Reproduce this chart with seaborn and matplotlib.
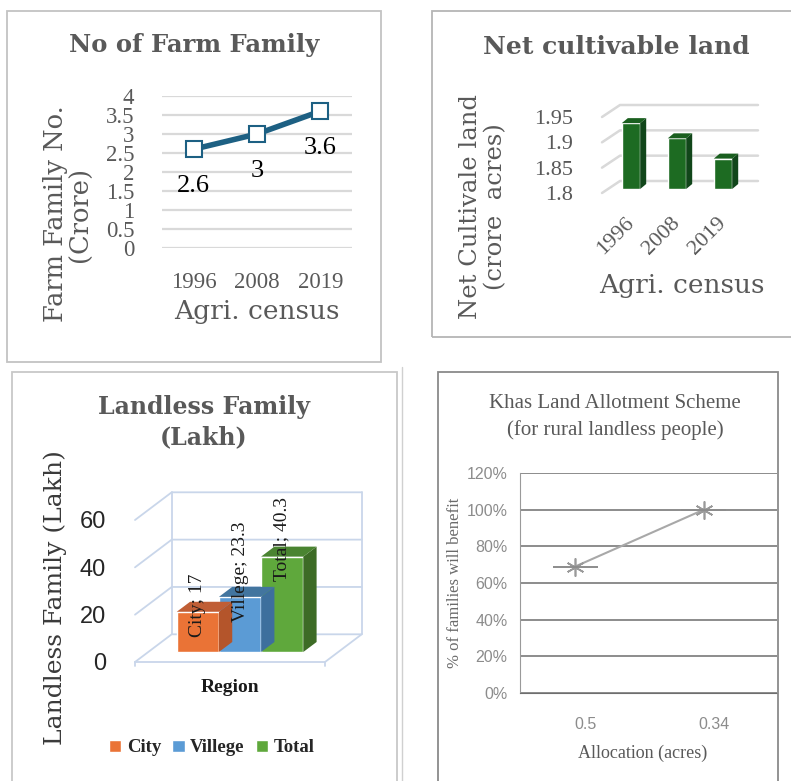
import numpy as np
import pandas as pd
import matplotlib
matplotlib.use('Agg')
import matplotlib.pyplot as plt
import matplotlib.transforms as mtransforms
from matplotlib.lines import Line2D
from matplotlib.patches import Rectangle, Polygon, Patch
import seaborn as sns

# values
census_years = ['1996', '2008', '2019']
farm_family = [2.6, 3.0, 3.6]        # crore
net_land = [1.93, 1.90, 1.86]        # crore acres
regions = ['City', 'Villege', 'Total']
landless = [17, 23.3, 40.3]          # lakh
allocation = ['0.5', '0.34']         # acres
benefit = [0.69, 1.00]               # share of families

region_colors = ['#ea7336', '#5b9bd5', '#5fa83c']
region_sides = ['#b4552b', '#3d6f9d', '#3d6b26']
region_tops = ['#c05e35', '#42759f', '#4a8431']

sns.set_style('white')
plt.rcParams['font.family'] = ['DejaVu Serif']

W, H = 791, 781
fig = plt.figure(figsize=(W / 100, H / 100), dpi=100)
px = mtransforms.IdentityTransform()

SLAB = 'DejaVu Serif'
TIMES = 'Liberation Serif'
ARIAL = 'Liberation Sans'
NARROW = ['Liberation Sans Narrow', 'Liberation Sans']
GREY = '#595959'


def box_axes(x0, y0, x1, y1):
    # box in pixels measured from the top-left corner
    return fig.add_axes([x0 / W, 1 - y1 / H, (x1 - x0) / W, (y1 - y0) / H])


def frame(x0, y0, x1, y1, color):
    fig.add_artist(Rectangle((x0 / W, 1 - y1 / H), (x1 - x0) / W, (y1 - y0) / H,
                             transform=fig.transFigure, fill=False, ec=color, lw=1.3))


def ftext(x, y, s, **kw):
    fig.text(x / W, 1 - y / H, s, ha='center', va='center', **kw)


def extrude(ax, patch, dx, dy, side, top):
    # fake 3d: side and top faces built from the drawn bar
    tr = patch.get_data_transform()
    x0, y0 = tr.transform((patch.get_x(), patch.get_y()))
    x1, y1 = tr.transform((patch.get_x() + patch.get_width(), patch.get_y() + patch.get_height()))
    ax.add_patch(Polygon([(x1, y0), (x1 + dx, y0 + dy), (x1 + dx, y1 + dy), (x1, y1)],
                         transform=px, fc=side, ec='none', clip_on=False, zorder=2))
    ax.add_patch(Polygon([(x0, y1), (x1, y1), (x1 + dx, y1 + dy), (x0 + dx, y1 + dy)],
                         transform=px, fc=top, ec='none', clip_on=False, zorder=2))


def depth_grid(ax, levels, dx, dy, color, lw, walls=False):
    x0, x1 = ax.get_xlim()
    for lv in levels:
        fx, fy = ax.transData.transform((x0, lv))
        bx, by = ax.transData.transform((x1, lv))
        ax.add_line(Line2D([fx, fx + dx, bx + dx], [fy, fy + dy, by + dy], transform=px,
                           color=color, lw=lw, clip_on=False, zorder=0.5))
    if walls:
        lo, hi = min(levels), max(levels)
        for xx in (x0, x1):
            bx, b0 = ax.transData.transform((xx, lo))
            _, b1 = ax.transData.transform((xx, hi))
            ax.add_line(Line2D([bx + dx, bx + dx], [b0 + dy, b1 + dy], transform=px,
                               color=color, lw=lw, clip_on=False, zorder=0.5))
        fx, fy = ax.transData.transform((x0, lo))
        bx, by = ax.transData.transform((x1, lo))
        ax.add_line(Line2D([fx, bx, bx + dx], [fy, by, by + dy], transform=px,
                           color=color, lw=lw, clip_on=False, zorder=0.5))
        for xx in (fx, bx):
            ax.add_line(Line2D([xx, xx], [fy, fy - 4], transform=px,
                               color=color, lw=lw, clip_on=False, zorder=0.5))


# panel frames
frame(7, 11, 381, 362, '#c3c3c3')
frame(432, 11, 800, 337, '#b5b5b5')
frame(12, 372, 397, 800, '#c8c8c8')
frame(438, 372, 778, 800, '#8a8a8a')
fig.add_artist(Line2D([402 / W, 402 / W], [0, 1 - 367 / H], transform=fig.transFigure,
                      color='#d0d0d0', lw=1))

# ---------------- No of Farm Family ----------------
ax1 = box_axes(162, 96, 352, 248)
df1 = pd.DataFrame({'year': census_years, 'families': farm_family})
sns.lineplot(data=df1, x='year', y='families', ax=ax1, color='#1d6083', lw=4,
             marker='s', markersize=12, markerfacecolor='white',
             markeredgecolor='#1d6083', markeredgewidth=1.5, zorder=3)
ax1.set_xlim(-0.5, 2.5)
ax1.set_ylim(0, 4)
ticks1 = np.arange(0, 4.01, 0.5)
ax1.set_yticks(ticks1, [f'{t:g}' for t in ticks1])
ax1.yaxis.grid(True, color='#d9d9d9', lw=1.6)
ax1.tick_params(length=0, labelsize=16.5, colors=GREY)
ax1.tick_params(axis='y', pad=20)
ax1.tick_params(axis='x', pad=17)
for lbl in ax1.get_xticklabels() + ax1.get_yticklabels():
    lbl.set_family(TIMES)
for s in ax1.spines.values():
    s.set_visible(False)
ax1.set_xlabel('')
ax1.set_ylabel('')
for i, v in enumerate(farm_family):
    ax1.annotate(f'{v:g}', xy=(i, v), xytext=(0, -37), textcoords='offset pixels',
                 ha='center', va='center', fontsize=19, family=TIMES, color='black')
ftext(194, 45, 'No of Farm Family', fontsize=17.5, fontweight='bold', color=GREY)
ftext(257, 312, 'Agri. census', fontsize=19, color=GREY)
ftext(68, 214, 'Farm Family No.\n(Crore)', fontsize=18.5, color=GREY, rotation=90,
      linespacing=1.0)

# ---------------- Net cultivable land ----------------
ax2 = box_axes(602, 117, 740, 193)
sns.barplot(x=census_years, y=net_land, color='#1d6b22', saturation=1, width=0.4,
            ax=ax2, zorder=2)
ax2.set_xlim(-0.5, 2.5)
ax2.set_ylim(1.8, 1.95)
levels2 = [1.8, 1.85, 1.9, 1.95]
ax2.set_yticks(levels2, [f'{t:g}' for t in levels2])
shift2 = mtransforms.offset_copy(ax2.transData, fig=fig, x=6, y=4, units='dots')
for p in ax2.patches:
    p.set_height(p.get_height() - levels2[0])
    p.set_y(levels2[0])
    p.set_transform(shift2)
    p.set_clip_on(False)
    extrude(ax2, p, 6, 5, '#11461a', '#1a5f1f')
depth_grid(ax2, levels2, 18, 12, '#d9d9d9', 1.8)
for s in ax2.spines.values():
    s.set_visible(False)
ax2.tick_params(length=0, labelsize=16, colors=GREY)
ax2.tick_params(axis='y', pad=21)
ax2.tick_params(axis='x', pad=15)
for lbl in ax2.get_xticklabels():
    lbl.set_rotation(45)
    lbl.set_ha('right')
    lbl.set_rotation_mode('anchor')
for lbl in ax2.get_xticklabels() + ax2.get_yticklabels():
    lbl.set_family(TIMES)
ftext(616, 47, 'Net cultivable land', fontsize=18, fontweight='bold', color=GREY)
ftext(682, 286, 'Agri. census', fontsize=19, color=GREY)
ftext(483, 207, 'Net Cultivale land\n(crore  acres)', fontsize=17.5, color=GREY,
      rotation=90, linespacing=1.1)

# ---------------- Landless Family ----------------
ax3 = box_axes(135, 520, 325, 662)
sns.barplot(x=regions, y=landless, hue=regions, palette=region_colors, saturation=1,
            width=1.0, legend=False, ax=ax3, zorder=2)
ax3.set_xlim(-1.175, 3.33)
ax3.set_ylim(0, 60)
levels3 = [0, 20, 40, 60]
ax3.set_yticks(levels3, [str(t) for t in levels3])
shift3 = mtransforms.offset_copy(ax3.transData, fig=fig, x=13.3, y=10, units='dots')
for p, side, top in zip(ax3.patches, region_sides, region_tops):
    p.set_transform(shift3)
    p.set_clip_on(False)
    extrude(ax3, p, 13.3, 10, side, top)
depth_grid(ax3, levels3, 36.7, 27.7, '#c9d6ea', 1.3, walls=True)
for i, (r, v) in enumerate(zip(regions, landless)):
    ax3.text(i, v - 10.5, f'{r}; {v:g}', transform=shift3, rotation=90, ha='center',
             va='bottom', fontsize=14, family=TIMES, color='#1a1a1a', zorder=4)
for s in ax3.spines.values():
    s.set_visible(False)
ax3.set_xticks([])
ax3.tick_params(length=0, labelsize=17, colors='#262626', pad=21)
for lbl in ax3.get_yticklabels():
    lbl.set_family(ARIAL)
handles = [Patch(facecolor=c, label=r) for c, r in zip(region_colors, regions)]
ax3.legend(handles=handles, loc='center', bbox_to_anchor=(212 / W, 1 - 748 / H),
           bbox_transform=fig.transFigure, ncol=3, frameon=False, handlelength=0.65,
           handleheight=0.65, handletextpad=0.3, columnspacing=0.6,
           prop={'family': TIMES, 'weight': 'bold', 'size': 13.5})
ftext(204, 407, 'Landless Family', fontsize=17, fontweight='bold', color=GREY)
ftext(204, 437, '(Lakh)', fontsize=17, fontweight='bold', color=GREY)
ftext(230, 688, 'Region', fontsize=14, fontweight='bold', family=TIMES, color='#1a1a1a')
ftext(55, 598, 'Landless Family (Lakh)', fontsize=18, color='#3a3a3a', rotation=90)

# ---------------- Khas Land Allotment Scheme ----------------
ax4 = box_axes(520, 473, 777, 693)
df4 = pd.DataFrame({'allocation': allocation, 'benefit': benefit})
sns.lineplot(data=df4, x='allocation', y='benefit', ax=ax4, color='#a8a8a8', lw=1.5,
             marker=(6, 2, 0), markersize=13, markeredgecolor='#9a9a9a',
             markeredgewidth=1.2, zorder=3)
ax4.errorbar(np.arange(len(benefit)), benefit, xerr=0.175, fmt='none', ecolor='#8c8c8c',
             elinewidth=1.4, zorder=3)
ax4.set_xlim(-0.43, 1.57)
ax4.set_ylim(0, 1.2)
ticks4 = np.arange(0, 1.21, 0.2)
ax4.set_yticks(ticks4, [f'{round(t * 100)}%' for t in ticks4])
ax4.set_xticks(range(len(allocation)), allocation)
ax4.set_xticks([0.5, 1.5], minor=True)
ax4.yaxis.grid(True, color='#6e6e6e', lw=1.1)
ax4.spines['right'].set_visible(False)
ax4.spines['top'].set_visible(False)
ax4.spines['left'].set_color('#9a9a9a')
ax4.spines['bottom'].set_color('#6e6e6e')
ax4.tick_params(axis='y', length=0, labelsize=11.5, colors='#8c8c8c', pad=9)
ax4.tick_params(axis='x', which='both', direction='in', length=4, color='#bdbdbd',
                labelsize=11.5, labelcolor='#8c8c8c', pad=17)
nudge = mtransforms.ScaledTranslation(10 / 100, 0, fig.dpi_scale_trans)
for lbl in ax4.get_xticklabels():
    lbl.set_transform(lbl.get_transform() + nudge)
for lbl in ax4.get_xticklabels() + ax4.get_yticklabels():
    lbl.set_family(NARROW)
ax4.set_xlabel('')
ax4.set_ylabel('')
ftext(615, 403, 'Khas Land Allotment Scheme', fontsize=15, family=TIMES, color=GREY)
ftext(615, 430, '(for rural landless people)', fontsize=15, family=TIMES, color=GREY)
ftext(643, 753, 'Allocation (acres)', fontsize=13, family=TIMES, color=GREY)
ftext(455, 583, '% of families will benefit', fontsize=12, family=TIMES, color='#6a6a6a',
      rotation=90)

fig.savefig('out.png', dpi=100)
